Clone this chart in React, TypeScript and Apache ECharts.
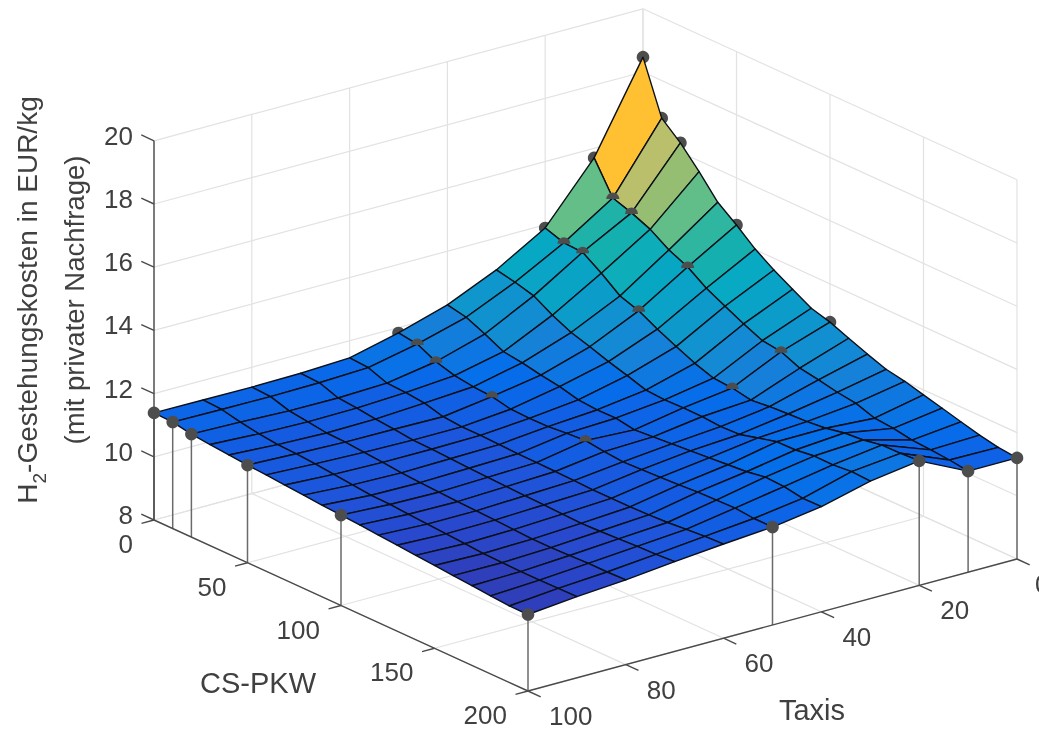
import React, { useEffect, useRef } from "react";
import * as echarts from "echarts";

const taxis = [0, 10, 20, 30, 40, 50, 60, 70, 80, 90, 100];
const csPkw = [0, 10, 20, 30, 40, 50, 60, 70, 80, 90, 100, 110, 120, 130, 140, 150, 160, 170, 180, 190, 200];

// cost per Taxis value (outer), along CS-PKW (inner)
const costT0 = [18.47, 16.81, 16.3, 15.66, 14.96, 14.51, 14.02, 13.63, 13.29, 12.96, 12.79, 12.55, 12.32, 12.11, 12.0, 11.84, 11.69, 11.53, 11.38, 11.26, 11.2];
const costT10 = [15.7, 14.7, 14.5, 14.25, 13.87, 13.6, 13.2, 12.9, 12.61, 12.35, 12.27, 12.02, 11.92, 11.8, 11.72, 11.52, 11.47, 11.37, 11.33, 11.28, 11.2];
const costT20 = [13.9, 13.7, 13.67, 13.28, 12.83, 12.63, 12.32, 12.04, 11.78, 11.58, 11.54, 11.43, 11.49, 11.53, 11.56, 11.62, 11.74, 11.79, 11.9, 11.91, 11.94];
const costT30 = [12.99, 12.87, 12.71, 12.37, 12.09, 11.91, 11.71, 11.54, 11.35, 11.31, 11.33, 11.32, 11.28, 11.3, 11.46, 11.61, 11.62, 11.7, 11.69, 11.75, 11.72];
const costT40 = [12.3, 12.18, 11.92, 11.63, 11.55, 11.43, 11.34, 11.19, 11.14, 11.15, 11.05, 11.1, 11.15, 11.2, 11.25, 11.3, 11.35, 11.45, 11.42, 11.32, 11.33];
const costT50 = [11.83, 11.75, 11.46, 11.29, 11.21, 11.17, 11.04, 11.02, 11.03, 11.09, 11.13, 11.05, 11.0, 11.02, 11.05, 11.08, 11.12, 11.14, 11.16, 11.1, 11.1];
const costT60 = [11.46, 11.42, 11.2, 11.17, 11.11, 10.95, 10.9, 10.9, 10.88, 10.86, 10.85, 10.84, 10.82, 10.8, 10.8, 10.8, 10.82, 10.85, 10.9, 10.95, 10.98];
const costT70 = [11.39, 11.36, 11.15, 11.1, 11.02, 10.97, 10.9, 10.88, 10.85, 10.82, 10.8, 10.78, 10.76, 10.74, 10.72, 10.7, 10.72, 10.75, 10.78, 10.8, 10.84];
const costT80 = [11.37, 11.34, 11.16, 11.08, 11.0, 10.98, 10.93, 10.88, 10.82, 10.78, 10.75, 10.72, 10.7, 10.68, 10.65, 10.62, 10.62, 10.64, 10.66, 10.66, 10.68];
const costT90 = [11.38, 11.35, 11.22, 11.12, 11.05, 11.03, 10.98, 10.92, 10.86, 10.8, 10.78, 10.74, 10.7, 10.66, 10.62, 10.58, 10.56, 10.55, 10.55, 10.56, 10.57];
const costT100 = [11.39, 11.37, 11.26, 11.2, 11.14, 11.09, 11.05, 11.0, 10.95, 10.9, 10.86, 10.82, 10.77, 10.72, 10.67, 10.62, 10.57, 10.52, 10.47, 10.42, 10.42];
const cost = [costT0, costT10, costT20, costT30, costT40, costT50, costT60, costT70, costT80, costT90, costT100];

const markerTaxis = [0, 10, 20, 50, 100];
const markerCs = [0, 10, 20, 50, 100, 200];

const zTicks = [8, 10, 12, 14, 16, 18, 20];
const taxisTicks = [0, 20, 40, 60, 80, 100];
const csTicks = [0, 50, 100, 150, 200];

const rampZ = [10.45, 10.7, 10.85, 11.1, 11.6, 12.3, 13, 14, 14.5, 15, 15.7, 16.3, 16.85, 18.47];
const rampRGB = [
  [52, 56, 172], [40, 72, 205], [30, 85, 218], [20, 92, 226], [5, 110, 235], [22, 128, 216],
  [15, 150, 205], [6, 170, 195], [20, 175, 175], [48, 183, 160], [100, 190, 135], [150, 190, 115], [188, 191, 105], [255, 192, 50],
];

const FONT = '"Liberation Sans", Arial, sans-serif';
const TEXT = "#404040";

function p3(t: number, c: number, z: number): [number, number] {
  return [643 - 4.89 * t + 1.87 * c, 388 + 1.32 * t + 0.855 * c - 31.6 * (z - 8)];
}

function colorFor(z: number): string {
  if (z <= rampZ[0]) return `rgb(${rampRGB[0].join(",")})`;
  for (let i = 1; i < rampZ.length; i++) {
    if (z <= rampZ[i]) {
      const f = (z - rampZ[i - 1]) / (rampZ[i] - rampZ[i - 1]);
      const m = rampRGB[i].map((v, k) => Math.round(rampRGB[i - 1][k] + (v - rampRGB[i - 1][k]) * f));
      return `rgb(${m.join(",")})`;
    }
  }
  return `rgb(${rampRGB[rampRGB.length - 1].join(",")})`;
}

const valueAt = (t: number, c: number) => cost[taxis.indexOf(t)][csPkw.indexOf(c)];

function buildOption() {
  const tMax = taxis[taxis.length - 1];
  const cMax = csPkw[csPkw.length - 1];
  const zMin = zTicks[0];
  const zMax = zTicks[zTicks.length - 1];

  const gridSegs: number[][] = [];
  zTicks.forEach((z) => {
    gridSegs.push([tMax, 0, z, 0, 0, z]);
    gridSegs.push([0, 0, z, 0, cMax, z]);
  });
  taxisTicks.forEach((t) => {
    gridSegs.push([t, 0, zMin, t, cMax, zMin]);
    gridSegs.push([t, 0, zMin, t, 0, zMax]);
  });
  csTicks.forEach((c) => {
    gridSegs.push([0, c, zMin, tMax, c, zMin]);
    gridSegs.push([0, c, zMin, 0, c, zMax]);
  });

  const axisSegs: number[][] = [
    [tMax, 0, zMin, tMax, 0, zMax],
    [tMax, 0, zMin, tMax, cMax, zMin],
    [tMax, cMax, zMin, 0, cMax, zMin],
  ];
  const tickLenT = 2.55;
  const tickLenC = 6.8;
  zTicks.forEach((z) => axisSegs.push([tMax, 0, z, tMax, -tickLenC, z]));
  csTicks.forEach((c) => axisSegs.push([tMax, c, zMin, tMax + tickLenT, c, zMin]));
  taxisTicks.forEach((t) => axisSegs.push([t, cMax, zMin, t, cMax + tickLenC, zMin]));

  const cells: number[][] = [];
  for (let i = 0; i < taxis.length - 1; i++) {
    for (let j = 0; j < csPkw.length - 1; j++) cells.push([i, j]);
  }

  const backMarkers: number[][] = [];
  const midMarkers: number[][] = [];
  const frontMarkers: number[][] = [];
  const stems: number[][] = [];
  markerTaxis.forEach((t) =>
    markerCs.forEach((c) => {
      const z = valueAt(t, c);
      if (t === tMax || c === cMax) {
        frontMarkers.push([t, c, z]);
        stems.push([t, c, zMin, t, c, z]);
      } else if (t === 0 || c === 0) backMarkers.push([t, c, z]);
      else midMarkers.push([t, c, z]);
    })
  );

  const seg = (color: string, lineWidth: number) => (_: any, api: any) => {
    const a = api.coord(p3(api.value(0), api.value(1), api.value(2)));
    const b = api.coord(p3(api.value(3), api.value(4), api.value(5)));
    return {
      type: "line",
      shape: { x1: a[0], y1: a[1], x2: b[0], y2: b[1] },
      style: { stroke: color, lineWidth },
    };
  };
  const dot = (half: boolean) => (_: any, api: any) => {
    const a = api.coord(p3(api.value(0), api.value(1), api.value(2)));
    return half
      ? {
          type: "sector",
          shape: { cx: a[0], cy: a[1] + 1, r: 6.5, r0: 0, startAngle: Math.PI, endAngle: Math.PI * 2 },
          style: { fill: "#4d4d4d" },
        }
      : {
          type: "circle",
          shape: { cx: a[0], cy: a[1], r: 6.3 },
          style: { fill: "#4d4d4d" },
        };
  };
  const base = { type: "custom", coordinateSystem: "cartesian2d", silent: true, clip: false, animation: false };
  const encodeNone = { x: 0, y: 1 };

  const labelItem = (text: string, x: number, y: number, align: string, rotation = 0, fontSize = 26) => ({
    type: "text",
    x,
    y,
    rotation,
    style: { text, x: 0, y: 0, fill: TEXT, font: `${fontSize}px ${FONT}`, textAlign: align, textVerticalAlign: "middle" },
  });
  const tickLabels: any[] = [];
  zTicks.forEach((z) => {
    const q = p3(tMax, 0, z);
    tickLabels.push(labelItem(String(z), q[0] - 21, q[1] - 5, "right"));
  });
  csTicks.forEach((c) => {
    const q = p3(tMax, c, zMin);
    tickLabels.push(labelItem(String(c), q[0] - 21, q[1] + 24, "right"));
  });
  taxisTicks.forEach((t) => {
    const q = p3(t, cMax, zMin);
    tickLabels.push(labelItem(String(t), q[0] + (t === 0 ? 18 : 21), q[1] + 25, "left"));
  });

  return {
    animation: false,
    backgroundColor: "#ffffff",
    grid: { left: 0, right: 0, top: 0, bottom: 0 },
    xAxis: { type: "value", min: 0, max: 1039, show: false },
    yAxis: { type: "value", min: 0, max: 729, inverse: true, show: false },
    tooltip: { show: false },
    graphic: {
      elements: [
        ...tickLabels,
        labelItem("CS-PKW", 258, 683, "center", 0, 29),
        labelItem("Taxis", 812, 710, "center", 0, 29),
        {
          type: "text",
          x: 27,
          y: 300,
          rotation: Math.PI / 2,
          style: {
            text: "{n|H}{s|2}{n|-Gestehungskosten in EUR/kg}",
            textAlign: "center",
            textVerticalAlign: "middle",
            fill: TEXT,
            rich: {
              n: { font: `28px ${FONT}`, fill: TEXT, lineHeight: 44, verticalAlign: "middle" },
              s: { font: `19px ${FONT}`, fill: TEXT, lineHeight: 24, verticalAlign: "bottom" },
            },
          },
        },
        labelItem("(mit privater Nachfrage)", 74, 300, "center", Math.PI / 2, 27.5),
      ],
    },
    series: [
      { ...base, name: "grid", data: gridSegs, encode: encodeNone, renderItem: seg("#e2e2e2", 1.2) },
      { ...base, name: "back markers", data: backMarkers, encode: encodeNone, renderItem: dot(false) },
      {
        ...base,
        name: "surface",
        data: cells,
        encode: encodeNone,
        renderItem: (_: any, api: any) => {
          const i = api.value(0);
          const j = api.value(1);
          const pts = [
            [i, j],
            [i + 1, j],
            [i + 1, j + 1],
            [i, j + 1],
          ].map(([a, b]) => api.coord(p3(taxis[a], csPkw[b], cost[a][b])));
          return {
            type: "polygon",
            shape: { points: pts },
            style: { fill: colorFor(cost[i][j]), stroke: "#0b1018", lineWidth: 1.4, lineJoin: "round" },
          };
        },
      },
      { ...base, name: "mid markers", data: midMarkers, encode: encodeNone, renderItem: dot(true) },
      { ...base, name: "stems", data: stems, encode: encodeNone, renderItem: seg("#6a6a6a", 1.5) },
      { ...base, name: "axes", data: axisSegs, encode: encodeNone, renderItem: seg("#4a4a4a", 1.4) },
      { ...base, name: "front markers", data: frontMarkers, encode: encodeNone, renderItem: dot(false) },
    ],
  };
}

export default function App() {
  const ref = useRef<HTMLDivElement>(null);
  useEffect(() => {
    document.body.style.margin = "0";
    document.body.style.overflow = "hidden";
    const chart = echarts.init(ref.current!, undefined, { renderer: "svg", width: 1039, height: 729 });
    chart.setOption(buildOption() as any);
    return () => chart.dispose();
  }, []);
  return <div ref={ref} style={{ width: 1039, height: 729, filter: "blur(0.5px)" }} />;
}
